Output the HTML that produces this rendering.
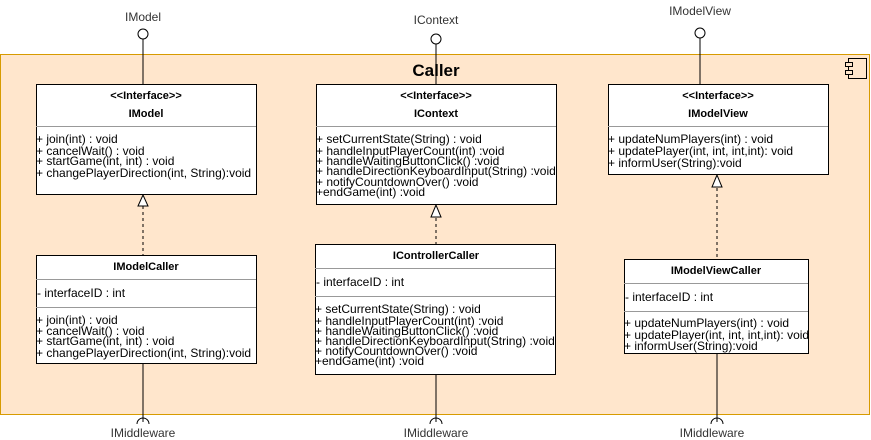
<!DOCTYPE html>
<html><head><style>
html,body{margin:0;padding:0;background:#fff;}
svg{display:block;font-family:"Liberation Sans",Arial,sans-serif;}
text{font-size:12px;fill:#000;}
.t{font-size:11px;font-weight:bold;text-anchor:middle;}
.l{font-size:12px;fill:#333;text-anchor:middle;}
</style></head><body>
<svg width="871" height="440" viewBox="0 0 871 440">
<rect x="0.5" y="54.5" width="869" height="360" fill="#ffe6cc" stroke="#d79b00"/>
<text x="436" y="76" style="font-size:17px;font-weight:bold" text-anchor="middle">Caller</text>
<g fill="#ffe6cc" stroke="#000">
<rect x="848.5" y="58.5" width="18" height="20"/>
<rect x="845.5" y="62.5" width="7" height="4"/>
<rect x="845.5" y="70.5" width="7" height="4"/>
</g>
<g stroke="#000" fill="#fff">
<line x1="143" y1="39" x2="143" y2="84"/><circle cx="143" cy="34" r="5"/>
<line x1="436" y1="44" x2="436" y2="84"/><circle cx="436" cy="39" r="5"/>
<line x1="700" y1="38" x2="700" y2="84"/><circle cx="700" cy="33" r="5"/>
</g>
<text class="l" x="143" y="21">IModel</text>
<text class="l" x="436" y="24">IContext</text>
<text class="l" x="700" y="15">IModelView</text>
<g stroke="#000" fill="none">
<line x1="143" y1="363" x2="143" y2="422"/><path d="M137 424 A6 6 0 0 1 149 424"/>
<line x1="436" y1="374" x2="436" y2="422"/><path d="M430 424 A6 6 0 0 1 442 424"/>
<line x1="717" y1="353" x2="717" y2="422"/><path d="M711 424 A6 6 0 0 1 723 424"/>
</g>
<text class="l" x="143" y="437">IMiddleware</text>
<text class="l" x="436" y="437">IMiddleware</text>
<text class="l" x="712" y="437">IMiddleware</text>
<g stroke="#000" fill="#fff">
<line x1="143" y1="206" x2="143" y2="255" stroke-dasharray="3,3"/>
<path d="M143 195 L138 206 L148 206 Z"/>
<line x1="436" y1="218" x2="436" y2="244" stroke-dasharray="3,3"/>
<path d="M436 205 L431 217 L441 217 Z"/>
<line x1="717" y1="188" x2="717" y2="259" stroke-dasharray="3,3"/>
<path d="M717 175 L712 187 L722 187 Z"/>
</g>
<g fill="#fff" stroke="#000">
<rect x="36.5" y="84.5" width="220" height="110"/>
<rect x="36.5" y="255.5" width="220" height="108"/>
<rect x="316.5" y="84.5" width="240" height="120"/>
<rect x="315.5" y="244.5" width="240" height="130"/>
<rect x="608.5" y="84.5" width="220" height="90"/>
<rect x="624.5" y="259.5" width="184" height="94"/>
</g>
<g stroke="#999">
<line x1="36" y1="126.5" x2="256" y2="126.5"/>
<line x1="36" y1="279.5" x2="256" y2="279.5"/>
<line x1="36" y1="307.5" x2="256" y2="307.5"/>
<line x1="316" y1="126.5" x2="556" y2="126.5"/>
<line x1="315" y1="268.5" x2="555" y2="268.5"/>
<line x1="315" y1="296.5" x2="555" y2="296.5"/>
<line x1="608" y1="126.5" x2="828" y2="126.5"/>
<line x1="624" y1="283.5" x2="808" y2="283.5"/>
<line x1="624" y1="311.5" x2="808" y2="311.5"/>
</g>
<text class="t" x="146" y="99">&lt;&lt;Interface&gt;&gt;</text>
<text class="t" x="146" y="117">IModel</text>
<text x="36" y="143">+ join(int) : void</text>
<text x="36" y="155">+ cancelWait() : void</text>
<text x="36" y="165">+ startGame(int, int) : void</text>
<text x="36" y="177">+ changePlayerDirection(int, String):void</text>
<text class="t" x="146" y="270">IModelCaller</text>
<text x="37" y="297">- interfaceID : int</text>
<text x="36" y="324">+ join(int) : void</text>
<text x="36" y="335">+ cancelWait() : void</text>
<text x="36" y="345">+ startGame(int, int) : void</text>
<text x="36" y="357">+ changePlayerDirection(int, String):void</text>
<text class="t" x="436" y="99">&lt;&lt;Interface&gt;&gt;</text>
<text class="t" x="436" y="117">IContext</text>
<text x="316" y="143">+ setCurrentState(String) : void</text>
<text x="316" y="155">+ handleInputPlayerCount(int) :void</text>
<text x="316" y="165">+ handleWaitingButtonClick() :void</text>
<text x="316" y="175">+ handleDirectionKeyboardInput(String) :void</text>
<text x="316" y="186">+ notifyCountdownOver() :void</text>
<text x="316" y="196">+endGame(int) :void</text>
<text class="t" x="436" y="259">IControllerCaller</text>
<text x="316" y="286">- interfaceID : int</text>
<text x="315" y="313">+ setCurrentState(String) : void</text>
<text x="315" y="325">+ handleInputPlayerCount(int) :void</text>
<text x="315" y="335">+ handleWaitingButtonClick() :void</text>
<text x="315" y="345">+ handleDirectionKeyboardInput(String) :void</text>
<text x="315" y="355">+ notifyCountdownOver() :void</text>
<text x="315" y="365">+endGame(int) :void</text>
<text class="t" x="718" y="99">&lt;&lt;Interface&gt;&gt;</text>
<text class="t" x="718" y="117">IModelView</text>
<text x="608" y="143">+ updateNumPlayers(int) : void</text>
<text x="608" y="155">+ updatePlayer(int, int, int,int): void</text>
<text x="608" y="167">+ informUser(String):void</text>
<text class="t" x="716" y="274">IModelViewCaller</text>
<text x="625" y="301">- interfaceID : int</text>
<text x="624" y="327">+ updateNumPlayers(int) : void</text>
<text x="624" y="339">+ updatePlayer(int, int, int,int): void</text>
<text x="624" y="350">+ informUser(String):void</text>
</svg>
</body></html>
